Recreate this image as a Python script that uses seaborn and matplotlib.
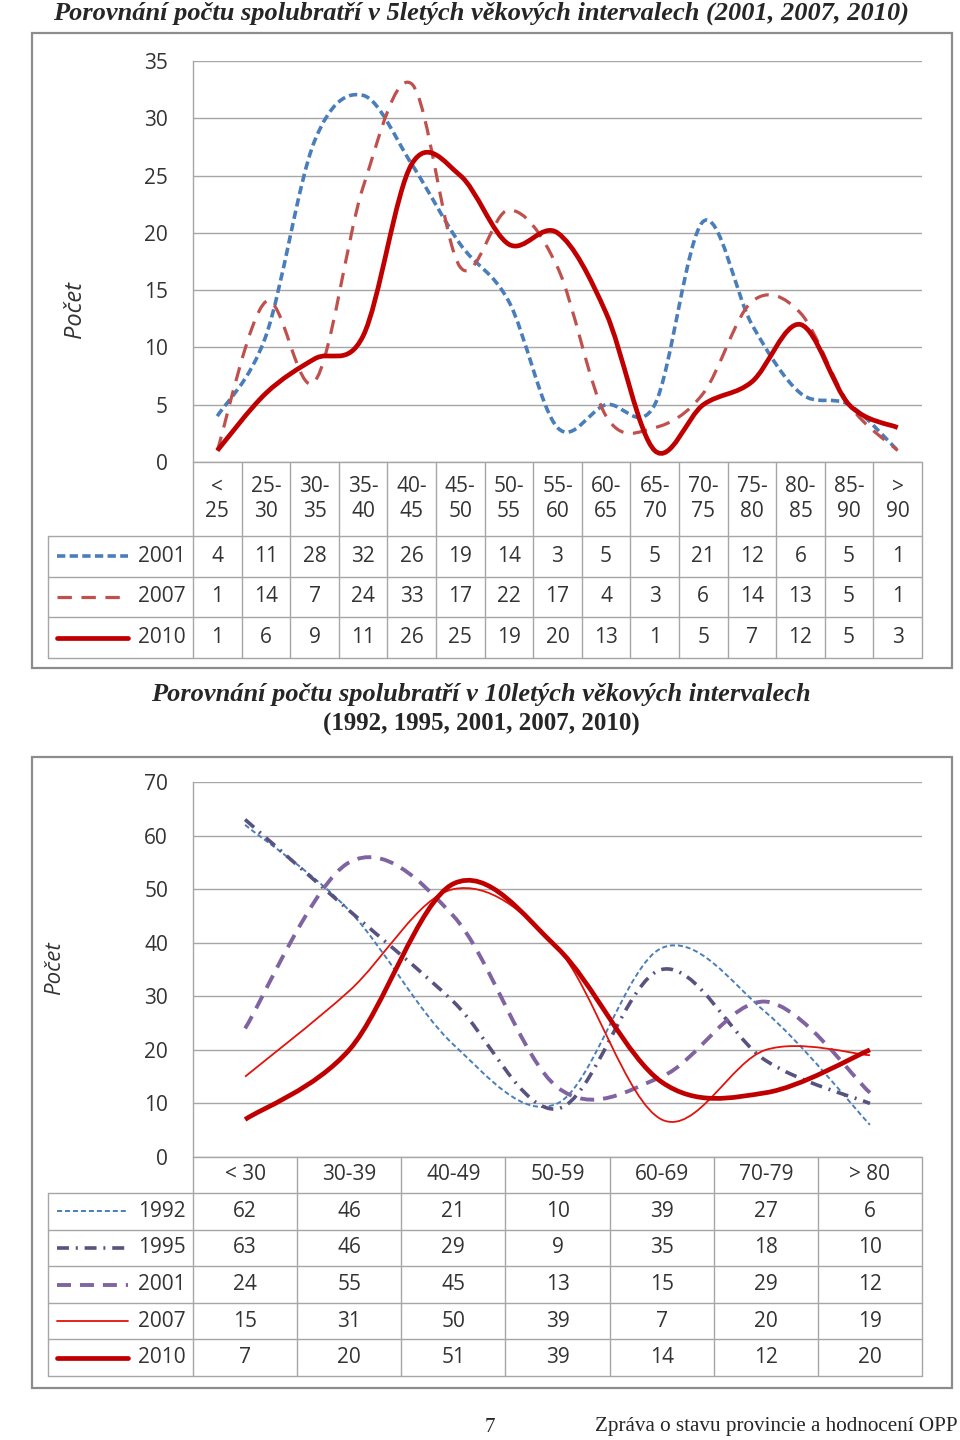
import numpy as np
import matplotlib
matplotlib.use("Agg")
import matplotlib.pyplot as plt
import seaborn as sns
from matplotlib.path import Path
from matplotlib.patches import PathPatch, Rectangle
from matplotlib.lines import Line2D

sns.set_theme(style="white")
plt.rcParams['font.family'] = ['Open Sans', 'DejaVu Sans']

W, H = 960, 1440

# --- data: 5-year intervals ---
ages_5 = ["<\n25", "25-\n30", "30-\n35", "35-\n40", "40-\n45", "45-\n50", "50-\n55",
          "55-\n60", "60-\n65", "65-\n70", "70-\n75", "75-\n80", "80-\n85", "85-\n90", ">\n90"]
years_5 = ["2001", "2007", "2010"]
count5_2001 = [4, 11, 28, 32, 26, 19, 14, 3, 5, 5, 21, 12, 6, 5, 1]
count5_2007 = [1, 14, 7, 24, 33, 17, 22, 17, 4, 3, 6, 14, 13, 5, 1]
count5_2010 = [1, 6, 9, 11, 26, 25, 19, 20, 13, 1, 5, 7, 12, 5, 3]

# --- data: 10-year intervals ---
ages_10 = ["< 30", "30-39", "40-49", "50-59", "60-69", "70-79", "> 80"]
years_10 = ["1992", "1995", "2001", "2007", "2010"]
count10_1992 = [62, 46, 21, 10, 39, 27, 6]
count10_1995 = [63, 46, 29, 9, 35, 18, 10]
count10_2001 = [24, 55, 45, 13, 15, 29, 12]
count10_2007 = [15, 31, 50, 39, 7, 20, 19]
count10_2010 = [7, 20, 51, 39, 14, 12, 20]

# line styles (color, width, dashes in units of linewidth)
styles_5 = [
    dict(color="#4A7EBB", lw=2.6, ls=(0, (2.3, 1.2))),
    dict(color="#C0504D", lw=2.3, ls=(0, (4.5, 3.0))),
    dict(color="#C00000", lw=3.4, ls="-"),
]
styles_10 = [
    dict(color="#4A7EBB", lw=1.4, ls=(0, (2.6, 1.5))),
    dict(color="#575280", lw=2.6, ls=(0, (3.3, 1.9, 0.55, 1.9))),
    dict(color="#8064A2", lw=2.8, ls=(0, (3.6, 2.3))),
    dict(color="#E3120B", lw=1.3, ls="-"),
    dict(color="#C00000", lw=3.4, ls="-"),
]

GRID = "#A6A6A6"
TXT = "#333333"


def smooth_path(ys):
    """Bezier path through the points (Excel-like smoothed line)."""
    pts = np.column_stack([np.arange(len(ys)), ys]).astype(float)
    n = len(pts)
    verts = [pts[0]]
    codes = [Path.MOVETO]
    for i in range(n - 1):
        p0 = pts[max(i - 1, 0)]
        p1 = pts[i]
        p2 = pts[i + 1]
        p3 = pts[min(i + 2, n - 1)]
        verts += [p1 + (p2 - p0) / 6, p2 - (p3 - p1) / 6, p2]
        codes += [Path.CURVE4] * 3
    return Path(verts, codes)


def draw_block(fig, over, cats, series, years, styles, ymax, ystep,
               plot_top, plot_bot, head_bot, table_bot, fsize, ylab_xy, ylab_size):
    xa, xb, x0 = 193, 922, 48
    n = len(cats)
    ax = fig.add_axes([xa / W, 1 - plot_bot / H, (xb - xa) / W, (plot_bot - plot_top) / H])
    ax.set_facecolor("none")
    ax.set_xlim(-0.5, n - 0.5)
    ax.set_ylim(0, ymax)
    ax.set_yticks(range(0, ymax + 1, ystep))
    ax.set_xticks([])
    ax.yaxis.grid(True, color=GRID, lw=1)
    ax.xaxis.grid(False)
    for s in ["top", "right", "bottom"]:
        ax.spines[s].set_visible(False)
    ax.spines["left"].set_color(GRID)
    ax.spines["left"].set_linewidth(1)
    ax.tick_params(axis="y", length=0, pad=18, labelsize=fsize, labelcolor=TXT)
    for ys, st in zip(series, styles):
        patch = PathPatch(smooth_path(ys), fill=False, edgecolor=st["color"],
                          lw=st["lw"], linestyle=st["ls"], capstyle="butt")
        ax.add_patch(patch)

    over.text(ylab_xy[0], ylab_xy[1], "Počet", rotation=90, style="italic",
              fontsize=ylab_size, color=TXT, ha="center", va="center")

    # data table under the plot
    colw = (xb - xa) / n
    nrows = len(series)
    rowh = (table_bot - head_bot) / nrows
    lc = dict(color=GRID, lw=1)
    over.plot([xa, xb], [plot_bot, plot_bot], **lc)
    for r in range(nrows + 1):
        y = head_bot + r * rowh
        over.plot([x0, xb], [y, y], **lc)
    over.plot([x0, x0], [head_bot, table_bot], **lc)
    for k in range(n + 1):
        x = xa + k * colw
        over.plot([x, x], [plot_bot, table_bot], **lc)
    for k, c in enumerate(cats):
        over.text(xa + (k + 0.5) * colw, (plot_bot + head_bot) / 2, c, ha="center",
                  va="center", fontsize=fsize, color=TXT, linespacing=1.2)
    for r, (ys, yr, st) in enumerate(zip(series, years, styles)):
        yc = head_bot + (r + 0.5) * rowh
        over.add_line(Line2D([57, 128], [yc, yc], color=st["color"], lw=st["lw"],
                             linestyle=st["ls"]))
        over.text(186, yc, yr, ha="right", va="center", fontsize=fsize, color=TXT)
        for k, v in enumerate(ys):
            over.text(xa + (k + 0.5) * colw, yc, str(v), ha="center", va="center",
                      fontsize=fsize, color=TXT)


fig = plt.figure(figsize=(W / 100, H / 100), dpi=100)
fig.patch.set_facecolor("white")
over = fig.add_axes([0, 0, 1, 1])
over.set_xlim(0, W)
over.set_ylim(H, 0)
over.axis("off")

serif = ["Liberation Serif", "DejaVu Serif"]

# chart frames
for top, bot in [(33, 668), (757, 1388)]:
    over.add_patch(Rectangle((32, top), 920, bot - top, fill=False,
                             edgecolor="#8C8C8C", lw=1.6))

# titles
over.text(481, 13, "Porovnání počtu spolubratří v 5letých věkových intervalech (2001, 2007, 2010)",
          family=serif, weight="bold", style="italic", fontsize=19, ha="center", va="center")
over.text(481, 694, "Porovnání počtu spolubratří v 10letých věkových intervalech",
          family=serif, weight="bold", style="italic", fontsize=19, ha="center", va="center")
over.text(481, 724, "(1992, 1995, 2001, 2007, 2010)",
          family=serif, weight="bold", fontsize=18, ha="center", va="center")

draw_block(fig, over, ages_5, [count5_2001, count5_2007, count5_2010], years_5, styles_5,
           35, 5, 61, 462, 536, 658, 15, (75, 310), 17)
draw_block(fig, over, ages_10,
           [count10_1992, count10_1995, count10_2001, count10_2007, count10_2010],
           years_10, styles_10, 70, 10, 782, 1157, 1193, 1376, 15, (55, 968), 16)

# footer
over.text(490, 1427, "7", family=serif, fontsize=15, ha="center", va="center")
over.text(958, 1427, "Zpráva o stavu provincie a hodnocení OPP", family=serif,
          fontsize=15.2, ha="right", va="center")

fig.savefig("out.png", dpi=100, facecolor="white")
